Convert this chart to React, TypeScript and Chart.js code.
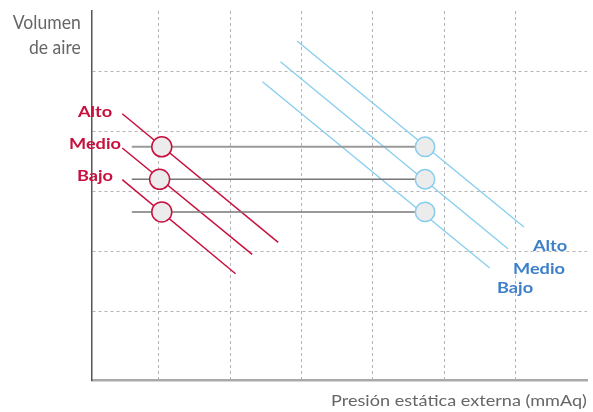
import React, { useEffect, useRef } from "react";
import { Chart, registerables } from "chart.js";
Chart.register(...registerables);

// ---- data (axis units: one grid cell = 1) ----
const levels = ["Alto", "Medio", "Bajo"];
// indoor-unit (red) curves
const redStartX = [0.486, 0.486, 0.486];
const redStartY = [4.29, 3.72, 3.195];
const redEndX = [2.671, 2.307, 2.074];
const redEndY = [2.15, 1.95, 1.628];
// duct (blue) curves
const blueStartX = [2.937, 2.704, 2.452];
const blueStartY = [5.5, 5.157, 4.823];
const blueEndX = [6.116, 5.892, 5.636];
const blueEndY = [2.407, 2.045, 1.723];
// operating points
const operatingY = [3.74, 3.2, 2.657];
const redPointX = [1.04, 1.01, 1.04];
const bluePointX = [4.73, 4.73, 4.73];
const guideStartX = [0.62, 0.62, 0.62];
// grid ticks
const xGridTicks = [1, 2, 3, 4, 5, 6];
const yGridTicks = [1, 2, 3, 4, 5];

const RED = "#c8103e";
const BLUE_LINE = "#86cdee";
const BLUE_TEXT = "#3d80c9";
const GREY_TEXT = "#666666";
const FAMILY = "Lato";

function fitSize(ctx: CanvasRenderingContext2D, text: string, weight: string, width: number) {
  ctx.font = `${weight} 100px ${FAMILY}`;
  return (100 * width) / ctx.measureText(text).width;
}

function drawText(
  ctx: CanvasRenderingContext2D,
  text: string,
  x: number,
  baseline: number,
  size: number,
  weight: string,
  cap: number,
  color: string,
  align: CanvasTextAlign
) {
  ctx.save();
  ctx.font = `${weight} ${size}px ${FAMILY}`;
  const capH = ctx.measureText("H").actualBoundingBoxAscent || size * 0.72;
  const sy = cap / capH;
  ctx.translate(x, baseline);
  ctx.scale(1, sy);
  ctx.textAlign = align;
  ctx.textBaseline = "alphabetic";
  ctx.fillStyle = color;
  ctx.fillText(text, 0, 0);
  ctx.restore();
}

const textPlugin = {
  id: "texts",
  afterDraw(chart: any) {
    const ctx: CanvasRenderingContext2D = chart.ctx;
    // y-axis title
    const ys = fitSize(ctx, "Volumen", "400", 68);
    drawText(ctx, "Volumen", 80.7, 29.3, ys, "400", 14.4, GREY_TEXT, "right");
    drawText(ctx, "de aire", 80.7, 54, ys, "400", 14.4, GREY_TEXT, "right");
    // x-axis title
    const xt = "Presión estática externa (mmAq)";
    const xs = fitSize(ctx, xt, "400", 256);
    drawText(ctx, xt, 331, 405.7, xs, "400", 10.8, GREY_TEXT, "left");
    // level labels
    const ls = fitSize(ctx, "Medio", "700", 52);
    const redBase = [117, 148.5, 180.5];
    const blueX = [533, 513, 497];
    const blueBase = [250.7, 274, 292.5];
    levels.forEach((l, i) => {
      drawText(ctx, l, 95, redBase[i], ls, "700", 12.3, RED, "center");
      drawText(ctx, l, blueX[i], blueBase[i], ls, "700", 12.3, BLUE_TEXT, "left");
    });
  },
};

function zeroFit(s: any) {
  if (s.isHorizontal()) s.height = 0;
  else s.width = 0;
  s.paddingLeft = 0;
  s.paddingRight = 0;
  s.paddingTop = 0;
  s.paddingBottom = 0;
}

export default function App() {
  const ref = useRef<HTMLCanvasElement>(null);
  useEffect(() => {
    if (!ref.current) return;
    const datasets: any[] = [];
    // points on top
    levels.forEach((l, i) => {
      datasets.push({
        label: "red point " + l,
        data: [{ x: redPointX[i], y: operatingY[i] }],
        showLine: false,
        pointRadius: 10,
        pointBackgroundColor: "#ececec",
        pointBorderColor: RED,
        pointBorderWidth: 1.5,
        order: 0,
      });
      datasets.push({
        label: "blue point " + l,
        data: [{ x: bluePointX[i], y: operatingY[i] }],
        showLine: false,
        pointRadius: 9.7,
        pointBackgroundColor: "#ececec",
        pointBorderColor: BLUE_LINE,
        pointBorderWidth: 1.5,
        order: 0,
      });
    });
    levels.forEach((l, i) => {
      datasets.push({
        label: "red " + l,
        data: [
          { x: redStartX[i], y: redStartY[i] },
          { x: redEndX[i], y: redEndY[i] },
        ],
        showLine: true,
        borderColor: RED,
        borderWidth: 1.5,
        pointRadius: 0,
        order: 2,
      });
      datasets.push({
        label: "blue " + l,
        data: [
          { x: blueStartX[i], y: blueStartY[i] },
          { x: blueEndX[i], y: blueEndY[i] },
        ],
        showLine: true,
        borderColor: BLUE_LINE,
        borderWidth: 1.3,
        pointRadius: 0,
        order: 2,
      });
      datasets.push({
        label: "guide " + l,
        data: [
          { x: guideStartX[i], y: operatingY[i] },
          { x: bluePointX[i], y: operatingY[i] },
        ],
        showLine: true,
        borderColor: i === 0 ? "#9a9a9a" : "#777777",
        borderWidth: i === 0 ? 2 : 1.5,
        pointRadius: 0,
        order: 1,
      });
    });

    const chart = new Chart(ref.current, {
      type: "scatter",
      data: { datasets },
      options: {
        animation: false,
        responsive: false,
        devicePixelRatio: 1,
        events: [],
        layout: { autoPadding: false, padding: { left: 92, right: 6, top: 11, bottom: 32 } },
        plugins: { legend: { display: false }, tooltip: { enabled: false } },
        scales: {
          x: {
            type: "linear",
            min: 0.062,
            max: 7,
            afterFit: zeroFit,
            afterBuildTicks: (s: any) => {
              s.ticks = xGridTicks.map((v) => ({ value: v }));
            },
            ticks: { display: false },
            grid: { color: "#b4b4b4", lineWidth: 1, drawTicks: false },
            border: { color: "#aaaaaa", width: 2.5, dash: [3, 3] },
          },
          y: {
            type: "linear",
            min: -0.14,
            max: 6,
            afterFit: zeroFit,
            afterBuildTicks: (s: any) => {
              s.ticks = yGridTicks.map((v) => ({ value: v }));
            },
            ticks: { display: false },
            grid: { color: "#b4b4b4", lineWidth: 1, drawTicks: false },
            border: { color: "#555555", width: 1.5, dash: [3, 3] },
          },
        },
      },
      plugins: [textPlugin],
    });
    return () => chart.destroy();
  }, []);

  return (
    <div style={{ position: "absolute", left: 0, top: 0, width: 593, height: 412, background: "#fff" }}>
      <canvas ref={ref} width={593} height={412} style={{ width: 593, height: 412, display: "block" }} />
    </div>
  );
}
